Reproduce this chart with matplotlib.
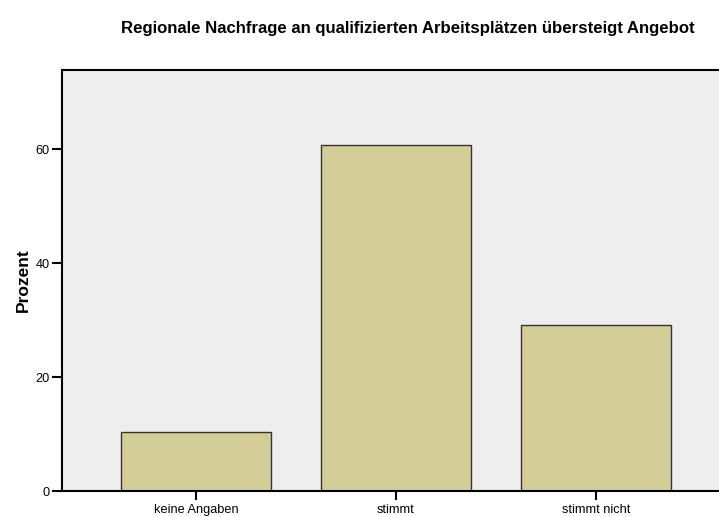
import matplotlib
matplotlib.use("Agg")
import matplotlib.pyplot as plt

categories = ["keine Angaben", "stimmt", "stimmt nicht"]
values = [10.3, 60.7, 29.1]
yticks = [0, 20, 40, 60]

plt.rcParams['font.family'] = ['Liberation Sans', 'DejaVu Sans']

fig = plt.figure(figsize=(7.19, 5.17), dpi=100)
ax = fig.add_axes([62/719, 26/517, 1 - 62/719, (491-70)/517])
ax.set_facecolor('#eeeeee')
x = list(range(len(categories)))
ax.bar(x, values, width=0.75, color='#d3ce97', edgecolor='#333333', linewidth=1.0, zorder=2)
ax.set_xlim(-0.67, 2.615)
ax.set_ylim(0, 73.9)
ax.set_xticks(x)
ax.set_xticklabels(categories, fontsize=9.2)
ax.set_yticks(yticks)
ax.set_yticklabels([str(v) for v in yticks], fontsize=9.2)
ax.tick_params(axis='y', direction='out', length=7.5, width=1.5, pad=1.5)
ax.tick_params(axis='x', direction='out', length=6.5, width=1.5, pad=3)
for s in ['left', 'top', 'bottom']:
    ax.spines[s].set_linewidth(1.5)
    ax.spines[s].set_color('black')
ax.spines['right'].set_visible(False)
ax.set_ylabel('Prozent', fontsize=12.5, fontweight='bold', labelpad=3)
fig.text(408/719, 1 - 28/517, 'Regionale Nachfrage an qualifizierten Arbeitsplätzen übersteigt Angebot',
         ha='center', va='center', fontsize=12.1, fontweight='bold')
fig.savefig('out.png', dpi=100)
